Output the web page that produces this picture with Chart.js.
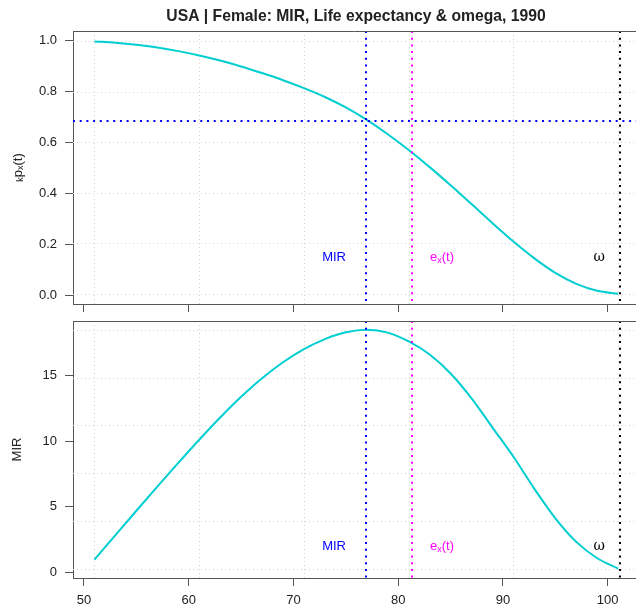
<!DOCTYPE html>
<html>
<head>
<meta charset="utf-8">
<title>USA | Female: MIR, Life expectancy & omega, 1990</title>
<script src="https://cdn.jsdelivr.net/npm/chart.js@4/dist/chart.umd.min.js"></script>
<style>
  html, body { margin: 0; padding: 0; background: #fff; }
  #wrap { position: relative; width: 636px; height: 609px; }
  #wrap canvas { position: absolute; left: 0; top: 0; }
</style>
</head>
<body>
<div id="wrap">
  <canvas id="survChart" width="636" height="609"></canvas>
  <canvas id="mirChart" width="636" height="609"></canvas>
</div>
<script>
// ages (every 2 years) and the two curves
const ages = [51, 53, 55, 57, 59, 61, 63, 65, 67, 69, 71, 73, 75, 77, 79, 81, 83, 85, 87, 89, 91, 93, 95, 97, 99, 101];
const survival = [0.997, 0.992, 0.984, 0.973, 0.959, 0.942, 0.922, 0.899, 0.873, 0.845, 0.814, 0.779, 0.738,
                  0.689, 0.633, 0.571, 0.504, 0.433, 0.359, 0.284, 0.212, 0.146, 0.089, 0.046, 0.019, 0.007];
const mirValues = [0.95, 2.82, 4.68, 6.52, 8.33, 10.10, 11.80, 13.38, 14.80, 16.02, 17.02, 17.79, 18.31,
                   18.50, 18.28, 17.61, 16.61, 15.16, 13.26, 11.03, 8.80, 6.35, 4.10, 2.30, 1.05, 0.25];

// axis ticks
const xTicks = [50, 60, 70, 80, 90, 100];
const survTicks = [0, 0.2, 0.4, 0.6, 0.8, 1.0];
const mirTicks = [0, 5, 10, 15];

// reference ages and the survival level at the MIR age
const mirAge = 76.97;
const lifeExpectancy = 81.33;
const omega = 101.15;
const survivalAtMir = 0.685;

// height of the in-panel labels
const survLabelY = 0.15;
const mirLabelY = 1.95;

const TITLE = 'USA | Female: MIR, Life expectancy & omega, 1990';
const FONT = '"Liberation Sans", Arial, sans-serif';
const CURVE = '#00CED1';
const AXIS = '#555555';
const TEXT = '#222222';
const GRID = '#d3d3d3';

function seqOut(from, to, n) {
    const step = (to - from) / (n - 1);
    return Array.from({length: n}, (_, i) => from + i * step);
}

// grid follows the data span rather than the ticks
const gridX = seqOut(ages[0], ages[ages.length - 1], 6);

function drawParts(ctx, parts, x, y, align) {
    // text with subscripts, parts = [{t, size, dy}]
    const widths = parts.map(p => {
        ctx.font = `${p.size}px ${FONT}`;
        return ctx.measureText(p.t).width;
    });
    const total = widths.reduce((a, b) => a + b, 0);
    let cx = align === 'center' ? x - total / 2 : align === 'right' ? x - total : x;
    ctx.textAlign = 'left';
    ctx.textBaseline = 'middle';
    parts.forEach((p, i) => {
        ctx.font = `${p.size}px ${FONT}`;
        ctx.fillText(p.t, cx, y + (p.dy || 0));
        cx += widths[i];
    });
}

function dotted(ctx, color, x0, y0, x1, y1) {
    ctx.strokeStyle = color;
    ctx.lineWidth = 2;
    ctx.setLineDash([2, 4.7]);
    ctx.beginPath();
    ctx.moveTo(x0, y0);
    ctx.lineTo(x1, y1);
    ctx.stroke();
}

function makeDecor(cfg) {
    return {
        id: 'decor_' + cfg.name,
        beforeDatasetsDraw(chart) {
            const {ctx, chartArea: a, scales: {x, y}} = chart;
            ctx.save();
            ctx.beginPath();
            ctx.rect(a.left, a.top, a.right - a.left, a.bottom - a.top);
            ctx.clip();
            ctx.strokeStyle = GRID;
            ctx.lineWidth = 1;
            ctx.setLineDash([1, 3]);
            gridX.forEach(v => {
                const px = Math.round(x.getPixelForValue(v)) + 0.5;
                ctx.beginPath(); ctx.moveTo(px, a.top); ctx.lineTo(px, a.bottom); ctx.stroke();
            });
            cfg.gridY.forEach(v => {
                const py = Math.round(y.getPixelForValue(v)) + 0.5;
                ctx.beginPath(); ctx.moveTo(a.left, py); ctx.lineTo(a.right, py); ctx.stroke();
            });
            ctx.restore();
        },
        afterDatasetsDraw(chart) {
            const {ctx, chartArea: a, scales: {x, y}} = chart;
            ctx.save();
            ctx.beginPath();
            ctx.rect(a.left, a.top, a.right - a.left, a.bottom - a.top);
            ctx.clip();

            const xMir = Math.round(x.getPixelForValue(mirAge));
            const xEx = Math.round(x.getPixelForValue(lifeExpectancy));
            const xOmega = Math.round(x.getPixelForValue(omega));

            if (cfg.hLine !== null) {
                const py = Math.round(y.getPixelForValue(cfg.hLine));
                dotted(ctx, '#0000FF', a.left, py, a.right, py);
            }
            dotted(ctx, '#0000FF', xMir, a.top, xMir, a.bottom);
            dotted(ctx, '#FF00FF', xEx, a.top, xEx, a.bottom);
            dotted(ctx, '#000000', xOmega, a.top, xOmega, a.bottom);

            // labels next to the reference lines
            const ly = y.getPixelForValue(cfg.labelY);
            ctx.fillStyle = '#0000FF';
            drawParts(ctx, [{t: 'MIR', size: 13}], xMir - 20, ly, 'right');
            ctx.fillStyle = '#FF00FF';
            drawParts(ctx, [{t: 'e', size: 13}, {t: 'x', size: 9, dy: 3}, {t: '(t)', size: 13}], xEx + 18, ly, 'left');
            ctx.fillStyle = '#000000';
            ctx.font = '14px "DejaVu Serif", "Liberation Serif", serif';
            ctx.textAlign = 'right';
            ctx.textBaseline = 'middle';
            ctx.fillText('ω', xOmega - 15, ly);
            ctx.restore();
        },
        afterDraw(chart) {
            const {ctx, chartArea: a} = chart;
            ctx.save();
            // top edge of the panel box
            ctx.strokeStyle = AXIS;
            ctx.lineWidth = 1;
            ctx.beginPath();
            ctx.moveTo(a.left, Math.round(a.top) + 0.5);
            ctx.lineTo(a.right, Math.round(a.top) + 0.5);
            ctx.stroke();

            ctx.fillStyle = TEXT;
            if (cfg.title) {
                ctx.font = `bold 15.7px ${FONT}`;
                ctx.textAlign = 'center';
                ctx.textBaseline = 'alphabetic';
                ctx.fillText(TITLE, 356, 21);
            }
            if (cfg.yParts) {
                ctx.translate(18, (a.top + a.bottom) / 2);
                ctx.rotate(-Math.PI / 2);
                drawParts(ctx, cfg.yParts, 0, 0, 'center');
            }
            ctx.restore();
        }
    };
}

function createPanel(canvasId, values, cfg) {
    const ctx = document.getElementById(canvasId).getContext('2d');
    return new Chart(ctx, {
        type: 'line',
        data: {
            datasets: [{
                data: ages.map((a, i) => ({x: a, y: values[i]})),
                borderColor: CURVE,
                borderWidth: 2,
                pointRadius: 0,
                cubicInterpolationMode: 'monotone',
                fill: false
            }]
        },
        options: {
            responsive: false,
            animation: false,
            layout: { padding: { top: cfg.top, left: 0, right: 0, bottom: 0 } },
            plugins: {
                legend: { display: false },
                tooltip: { enabled: false }
            },
            scales: {
                x: {
                    type: 'linear',
                    min: 48.95,
                    max: 102.7,
                    afterFit: s => { s.height = cfg.xHeight; },
                    afterBuildTicks: s => { s.ticks = xTicks.map(v => ({value: v})); },
                    grid: { drawOnChartArea: false, drawTicks: true, tickLength: 8, color: AXIS, lineWidth: 1 },
                    border: { display: true, color: AXIS, width: 1 },
                    ticks: {
                        display: cfg.showX,
                        color: TEXT,
                        padding: 7,
                        maxRotation: 0,
                        font: { family: FONT, size: 13 }
                    }
                },
                y: {
                    type: 'linear',
                    min: cfg.yMin,
                    max: cfg.yMax,
                    afterFit: s => { s.width = 73; },
                    afterBuildTicks: s => { s.ticks = cfg.yTicks.map(v => ({value: v})); },
                    grid: { drawOnChartArea: false, drawTicks: true, tickLength: 8, color: AXIS, lineWidth: 1 },
                    border: { display: true, color: AXIS, width: 1 },
                    title: cfg.yTitle ? {
                        display: true,
                        text: cfg.yTitle,
                        color: TEXT,
                        font: { family: FONT, size: 13 },
                        padding: { top: 10, bottom: 0 }
                    } : { display: false },
                    ticks: {
                        color: TEXT,
                        padding: 8,
                        font: { family: FONT, size: 13 },
                        callback: v => cfg.yDigits ? Number(v).toFixed(cfg.yDigits) : String(v)
                    }
                }
            }
        },
        plugins: [makeDecor(cfg)]
    });
}

// upper panel: survival kpx(t)
createPanel('survChart', survival, {
    name: 'surv',
    top: 31,
    xHeight: 609 - 304,
    showX: false,
    yMin: -0.033,
    yMax: 1.038,
    yTicks: survTicks,
    yDigits: 1,
    gridY: seqOut(Math.min(...survival), Math.max(...survival), 6),
    hLine: survivalAtMir,
    labelY: survLabelY,
    title: true,
    yParts: [{t: 'k', size: 9, dy: 3}, {t: 'p', size: 13}, {t: 'x', size: 9, dy: 3}, {t: '(t)', size: 13}]
});

// lower panel: MIR by age
createPanel('mirChart', mirValues, {
    name: 'mir',
    top: 321,
    xHeight: 31,
    showX: true,
    yMin: -0.458,
    yMax: 19.17,
    yTicks: mirTicks,
    yDigits: 0,
    yTitle: 'MIR',
    gridY: seqOut(Math.min(...mirValues), Math.max(...mirValues), 6),
    hLine: null,
    labelY: mirLabelY,
    title: false,
    yParts: null
});
</script>
</body>
</html>
